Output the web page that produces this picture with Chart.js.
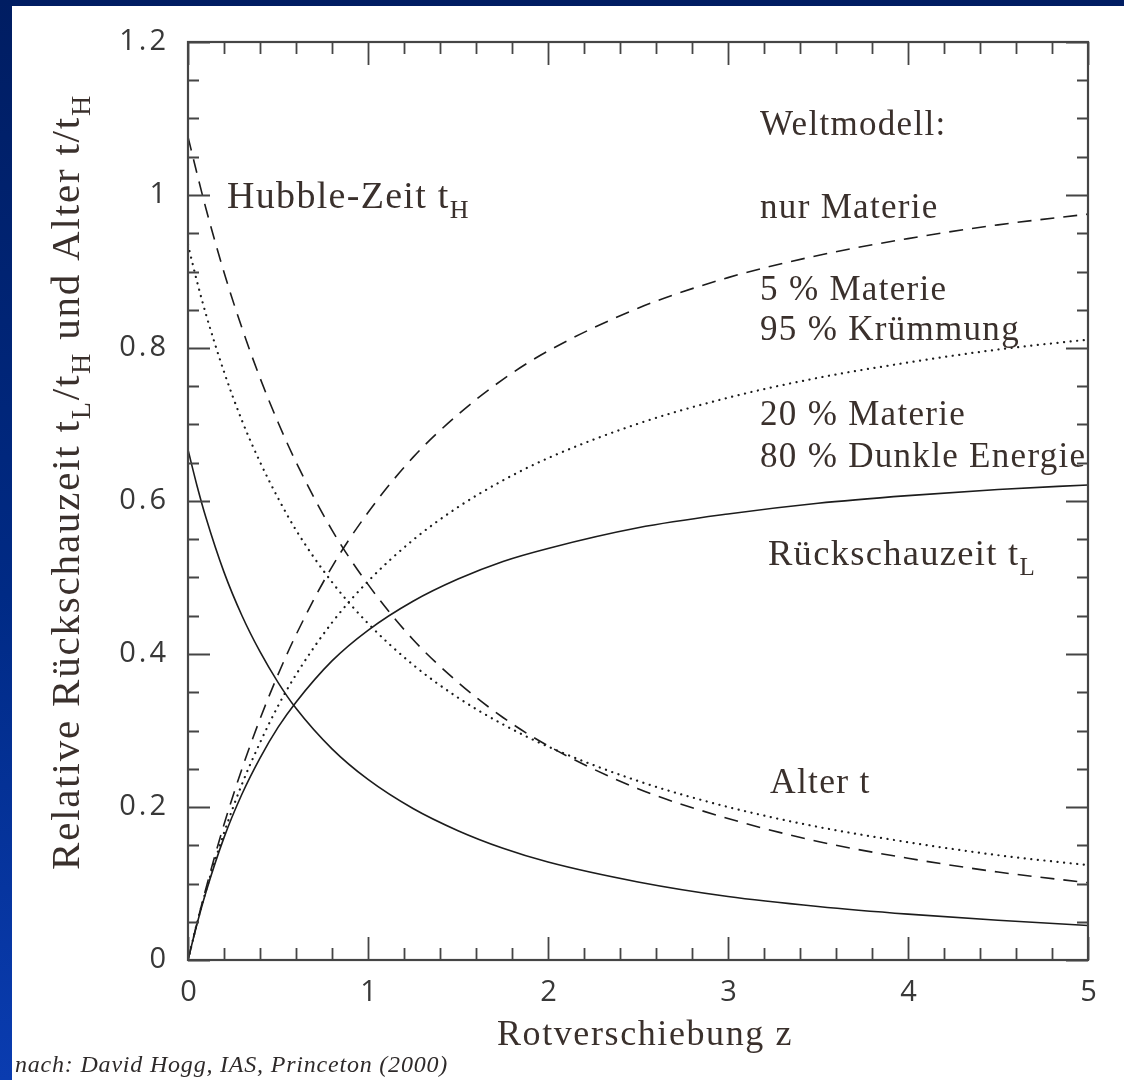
<!DOCTYPE html>
<html>
<head>
<meta charset="utf-8">
<script src="https://cdn.jsdelivr.net/npm/chart.js@4"></script>
<style>
  html, body { margin: 0; padding: 0; }
  body { width: 1124px; height: 1080px; overflow: hidden; position: relative;
         background: linear-gradient(180deg, #001d62 0%, #002a85 55%, #0a3cb0 100%); }
  #panel { position: absolute; left: 12px; top: 6px; width: 1112px; height: 1074px; background: #ffffff; }
  #chart { position: absolute; left: 0; top: 0; }
</style>
</head>
<body>
<div id="panel"></div>
<canvas id="chart" width="1124" height="1080"></canvas>
<script>
// ---- data ----
const redshift = [0, 0.05, 0.1, 0.2, 0.3, 0.4, 0.5, 0.6, 0.8, 1.0, 1.25, 1.5, 1.75, 2.0, 2.5, 3.0, 3.5, 4.0, 4.5, 5.0];
const ageMatterOnly      = [0.667, 0.620, 0.578, 0.507, 0.450, 0.403, 0.363, 0.329, 0.276, 0.236, 0.198, 0.169, 0.146, 0.128, 0.102, 0.083, 0.070, 0.060, 0.052, 0.045];
const lookbackMatterOnly = [0, 0.047, 0.089, 0.160, 0.217, 0.264, 0.304, 0.337, 0.391, 0.431, 0.469, 0.498, 0.521, 0.538, 0.565, 0.583, 0.597, 0.607, 0.615, 0.621];
const ageCurvature       = [0.935, 0.887, 0.844, 0.769, 0.705, 0.651, 0.604, 0.562, 0.494, 0.440, 0.386, 0.343, 0.308, 0.279, 0.234, 0.200, 0.174, 0.154, 0.137, 0.124];
const lookbackCurvature  = [0, 0.048, 0.091, 0.166, 0.230, 0.284, 0.332, 0.373, 0.441, 0.495, 0.549, 0.592, 0.627, 0.656, 0.701, 0.735, 0.761, 0.781, 0.798, 0.811];
const ageDarkEnergy      = [1.076, 1.028, 0.982, 0.899, 0.826, 0.761, 0.703, 0.651, 0.562, 0.491, 0.419, 0.363, 0.317, 0.280, 0.224, 0.185, 0.155, 0.133, 0.115, 0.101];
const lookbackDarkEnergy = [0, 0.048, 0.094, 0.177, 0.250, 0.315, 0.373, 0.425, 0.514, 0.585, 0.657, 0.713, 0.759, 0.796, 0.852, 0.892, 0.921, 0.943, 0.961, 0.975];

const xTickLabels = ['0', '1', '2', '3', '4', '5'];
const yTickLabels = ['0', '0.2', '0.4', '0.6', '0.8', '1', '1.2'];

const annotationTexts = [
  [{t: 'Weltmodell:'}],
  [{t: 'nur Materie'}],
  [{t: '5 % Materie'}],
  [{t: '95 % Krümmung'}],
  [{t: '20 % Materie'}],
  [{t: '80 % Dunkle Energie'}],
  [{t: 'Rückschauzeit t'}, {t: 'L', sub: true}],
  [{t: 'Alter t'}],
  [{t: 'Hubble-Zeit t'}, {t: 'H', sub: true}]
];
const xTitle = [{t: 'Rotverschiebung z'}];
const yTitle = [{t: 'Relative Rückschauzeit t'}, {t: 'L', sub: true}, {t: '/t'}, {t: 'H', sub: true},
                {t: ' und Alter t/t'}, {t: 'H', sub: true}];
const footerText = 'nach: David Hogg, IAS, Princeton (2000)';

// ---- layout / style (kept apart from data) ----
const annotationAnchors = [
  [3.178, 1.078], [3.178, 0.970], [3.178, 0.863], [3.178, 0.810],
  [3.178, 0.699], [3.178, 0.644], [3.222, 0.516], [3.233, 0.218], [0.217, 0.983]
];
const annotationSizes = [35, 35, 35, 35, 35, 35, 36.5, 35.5, 38];
const TEXT_COLOR = '#3a302c';
const SERIF = '"Liberation Serif", "Times New Roman", serif';

function pts(ys) { return redshift.map((z, i) => ({x: z, y: ys[i]})); }
function ds(label, ys, dash, width) {
  return { label, data: pts(ys), borderColor: '#1c1c1c', borderWidth: width,
           borderDash: dash, borderCapStyle: dash.length && dash[0] < 1 ? 'round' : 'butt',
           pointRadius: 0, fill: false, cubicInterpolationMode: 'monotone' };
}

function drawRich(ctx, parts, x, y, size, align, spacing) {
  const subSize = Math.round(size * 0.68);
  ctx.letterSpacing = spacing + 'px';
  let total = 0;
  const widths = parts.map(p => {
    ctx.font = (p.sub ? subSize : size) + 'px ' + SERIF;
    const w = ctx.measureText(p.t).width; total += w; return w;
  });
  let cx = align === 'center' ? x - total / 2 : x;
  ctx.textAlign = 'left';
  ctx.textBaseline = 'alphabetic';
  parts.forEach((p, i) => {
    ctx.font = (p.sub ? subSize : size) + 'px ' + SERIF;
    ctx.fillText(p.t, cx, p.sub ? y + size * 0.26 : y);
    cx += widths[i];
  });
  ctx.letterSpacing = '0px';
}

const framePlugin = {
  id: 'frame',
  afterDatasetsDraw(chart) {
    const {ctx, chartArea: a, scales: {x, y}} = chart;
    ctx.save();
    ctx.strokeStyle = '#454545';
    ctx.lineWidth = 2.2;
    ctx.strokeRect(a.left, a.top, a.right - a.left, a.bottom - a.top);
    ctx.lineWidth = 1.8;
    ctx.beginPath();
    // x ticks (minor every 0.2, major every 1), bottom and top, pointing inward
    for (let k = 0; k <= 25; k++) {
      const v = k * 0.2;
      const px = Math.round(x.getPixelForValue(v)) + 0.5;
      const len = k % 5 === 0 ? 23 : 12;
      ctx.moveTo(px, a.bottom); ctx.lineTo(px, a.bottom - len);
      ctx.moveTo(px, a.top); ctx.lineTo(px, a.top + len);
    }
    // y ticks (minor every 0.05, major every 0.2), left and right
    for (let k = 0; k <= 24; k++) {
      const v = k * 0.05;
      const py = Math.round(y.getPixelForValue(v)) + 0.5;
      const len = k % 4 === 0 ? 22 : 11;
      ctx.moveTo(a.left, py); ctx.lineTo(a.left + len, py);
      ctx.moveTo(a.right, py); ctx.lineTo(a.right - len, py);
    }
    ctx.stroke();

    // tick labels
    ctx.fillStyle = '#383838';
    ctx.font = '400 29px "Open Sans", "DejaVu Sans", sans-serif';
    ctx.letterSpacing = '3px';
    ctx.textAlign = 'right';
    ctx.textBaseline = 'middle';
    yTickLabels.forEach(l => ctx.fillText(l, a.left - 19, y.getPixelForValue(parseFloat(l))));
    ctx.textAlign = 'center';
    xTickLabels.forEach(l => ctx.fillText(l, x.getPixelForValue(parseFloat(l)) + 2, a.bottom + 33));
    ctx.letterSpacing = '0px';

    // annotations
    ctx.fillStyle = TEXT_COLOR;
    annotationTexts.forEach((parts, i) => {
      const [zx, vy] = annotationAnchors[i];
      drawRich(ctx, parts, x.getPixelForValue(zx), y.getPixelForValue(vy), annotationSizes[i], 'left', 1.3);
    });

    // axis titles
    drawRich(ctx, xTitle, (a.left + a.right) / 2 + 7, a.bottom + 85, 36, 'center', 1.6);
    ctx.save();
    ctx.translate(a.left - 109, (a.top + a.bottom) / 2 - 19);
    ctx.rotate(-Math.PI / 2);
    drawRich(ctx, yTitle, 0, 0, 41, 'center', 1.8);
    ctx.restore();

    // footer
    ctx.fillStyle = '#2e2a2a';
    ctx.font = 'italic 24px ' + SERIF;
    ctx.letterSpacing = '0.8px';
    ctx.textAlign = 'left';
    ctx.textBaseline = 'alphabetic';
    ctx.fillText(footerText, 15, 1072);
    ctx.restore();
  }
};

new Chart(document.getElementById('chart'), {
  type: 'line',
  data: {
    datasets: [
      ds('Alter, nur Materie', ageMatterOnly, [], 1.6),
      ds('Rückschauzeit, nur Materie', lookbackMatterOnly, [], 1.6),
      ds('Alter, 5 % Materie', ageCurvature, [0.1, 6.5], 2.2),
      ds('Rückschauzeit, 5 % Materie', lookbackCurvature, [0.1, 6.5], 2.2),
      ds('Alter, 20 % Materie', ageDarkEnergy, [14, 9], 1.6),
      ds('Rückschauzeit, 20 % Materie', lookbackDarkEnergy, [14, 9], 1.6)
    ]
  },
  options: {
    responsive: false,
    animation: false,
    devicePixelRatio: 1,
    layout: { padding: { left: 188, top: 42, right: 36, bottom: 120 } },
    plugins: { legend: { display: false }, tooltip: { enabled: false } },
    scales: {
      x: { type: 'linear', min: 0, max: 5, display: false },
      y: { type: 'linear', min: 0, max: 1.2, display: false }
    }
  },
  plugins: [framePlugin]
});
</script>
</body>
</html>
